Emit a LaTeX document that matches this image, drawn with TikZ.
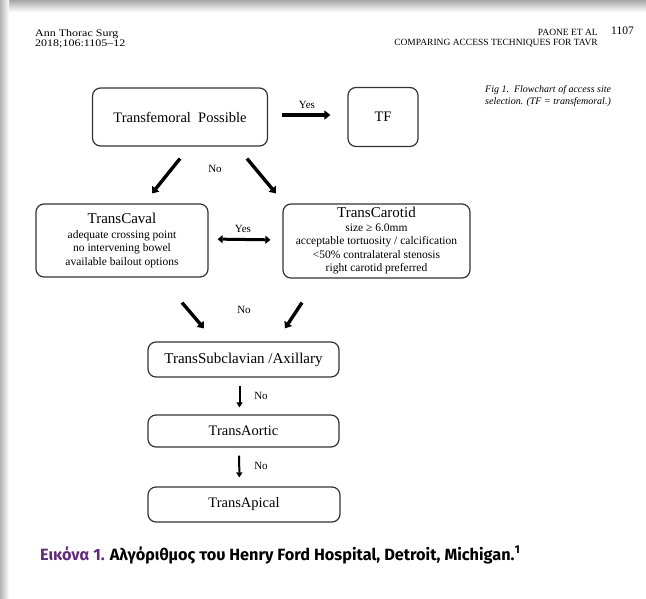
\documentclass[tikz,border=0pt]{standalone}
\usepackage{fontspec}
\setmainfont{Liberation Serif}
\newfontfamily\capfont{Fira Sans}
\usetikzlibrary{arrows.meta,calc,positioning}
\definecolor{capviolet}{RGB}{98,42,122}

\begin{document}
\begin{tikzpicture}[x=1pt,y=-1pt,
    box/.style={draw=black!80,line width=1.2pt,rounded corners=8pt,align=center,inner sep=0pt},
    big/.style={font=\fontsize{14.5}{17}\selectfont},
    small/.style={font=\fontsize{11.5}{13.5}\selectfont},
    lbl/.style={font=\fontsize{11}{12}\selectfont},
    fat/.style={line width=3.4pt,-{Triangle[length=6pt,width=9pt]}},
    thin/.style={line width=2pt,-{Triangle[length=5pt,width=6pt]}}]
  %page
  \useasboundingbox (0,0) rectangle (646,598);
  \fill[white] (0,0) rectangle (646,598);
  \shade[top color=black!35,bottom color=white] (0,0) rectangle (646,12);
  \shade[left color=black!30,right color=white] (0,0) rectangle (9,598);
  %header
  \node[anchor=north west,align=left,inner sep=0pt,xscale=1.2,font=\fontsize{10}{10}\selectfont] (jrnl) at (35,29) {Ann Thorac Surg\\2018;106:1105--12};
  \node[anchor=north east,align=right,inner sep=0pt,font=\fontsize{9.5}{10}\selectfont] (auth) at (598,29) {PAONE ET AL\\COMPARING ACCESS TECHNIQUES FOR TAVR};
  \node[anchor=north west,inner sep=0pt,font=\fontsize{11.5}{12}\selectfont] (page) at (611,27) {1107};
  \node[anchor=north west,align=left,inner sep=0pt,font=\fontsize{10}{12}\selectfont\itshape] (fig) at (485,85) {Fig 1.\ \ Flowchart of access site\\selection. (TF = transfemoral.)};
  %top row
  \node[box,big,minimum width=175pt,minimum height=58pt] (tfp) at (180,117) {Transfemoral\ \ Possible};
  \node[box,big,minimum width=70pt,minimum height=59pt] (tf) at ($(tfp)+(203,0)$) {TF};
  %middle row
  \node[box,small,minimum width=172pt,minimum height=73pt] (caval) at (122,240.5)
    {{\fontsize{15}{16}\selectfont TransCaval}\\[1pt] adequate crossing point\\ no intervening\ bowel\\ available\ bailout options};
  \node[box,small,minimum width=187pt,minimum height=74pt] (carotid) at ($(caval)+(254.5,0.5)$)
    {{\fontsize{15}{16}\selectfont TransCarotid}\\ size ≥ 6.0mm\\ acceptable tortuosity / calcification\\ <50\% contralateral\ stenosis\\ right carotid preferred};
  %bottom column
  \node[box,font=\fontsize{15}{17}\selectfont,minimum width=191pt,minimum height=35pt] (subcl) at (243.5,359.5) {TransSubclavian /Axillary};
  \node[box,big,minimum width=191pt,minimum height=32pt] (aortic) at ($(subcl)+(0,71.5)$) {TransAortic};
  \node[box,big,minimum width=192pt,minimum height=35pt] (apical) at ($(aortic)+(0.5,73.5)$) {TransApical};
  %free ends of the slanted arrows
  \coordinate (a1) at ($(tfp.south)+(0,12)$);
  \coordinate (a2) at ($(caval.north)+(30,-10)$);
  \coordinate (a3) at ($(tfp.south)+(67,12)$);
  \coordinate (a4) at ($(carotid.north)+(-100.5,-10)$);
  \coordinate (b1) at ($(caval.south)+(60,25)$);
  \coordinate (b2) at ($(subcl.north)+(-39.5,-13)$);
  \coordinate (b3) at ($(carotid.south)+(-74.5,24)$);
  \coordinate (b4) at ($(subcl.north)+(41.5,-13)$);
  %connectors
  \draw[fat,shorten <=14pt,shorten >=17pt] ([yshift=2pt]tfp.east) -- ([yshift=2pt]tf.west);
  \draw[fat] (a1) -- (a2);
  \draw[fat] (a3) -- (a4);
  \draw[line width=3pt,{Triangle[length=5pt,width=8pt]}-{Triangle[length=5pt,width=8pt]},shorten <=9pt,shorten >=12pt] ([yshift=1.5pt]caval.east) -- ([yshift=1pt]carotid.west);
  \draw[fat] (b1) -- (b2);
  \draw[fat] (b3) -- (b4);
  \draw[thin,shorten <=8pt,shorten >=7pt] ([xshift=-4pt]subcl.south) -- ([xshift=-4pt]aortic.north);
  \draw[thin,shorten <=8pt,shorten >=9pt] ([xshift=-4.5pt]aortic.south) -- ([xshift=-4.5pt]apical.north);
  %labels
  \node[lbl] (y1) at (307,105) {Yes};
  \node[lbl] (n1) at (215,169) {No};
  \node[lbl] (y2) at (243,229) {Yes};
  \node[lbl] (n2) at (244,310) {No};
  \node[lbl] (n3) at (261,396) {No};
  \node[lbl] (n4) at (261,466) {No};
  %caption
  \node[anchor=west,inner sep=0pt,font=\capfont\bfseries\fontsize{16.3}{18}\selectfont] (cap) at (40,555)
    {\textcolor{capviolet}{Εικόνα 1.} Αλγόριθμος του Henry Ford Hospital, Detroit, Michigan.\textsuperscript{1}};
\end{tikzpicture}
\end{document}
